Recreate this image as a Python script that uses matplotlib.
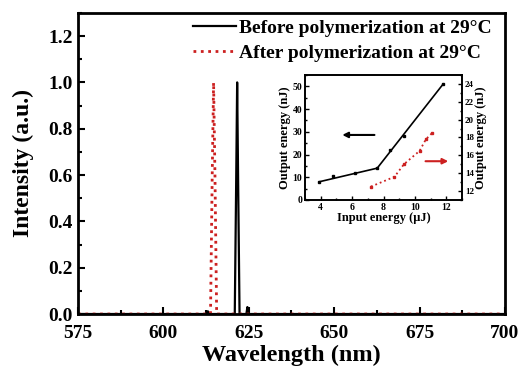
import matplotlib.pyplot as plt
from matplotlib.ticker import MultipleLocator

plt.rcParams['font.family'] = ['Liberation Serif', 'DejaVu Serif']
plt.rcParams['font.weight'] = 'bold'

# spectra (nm, a.u.)
before_wl = [575, 612.6, 613.0, 613.4, 620.9, 621.3, 621.6, 621.9, 622.3, 624.3, 624.6, 624.9, 700]
before_int = [0.0, 0.0, 0.012, 0.0, 0.0, 0.55, 1.0, 0.55, 0.0, 0.0, 0.03, 0.0, 0.0]
after_wl = [575, 613.8, 614.3, 614.7, 615.1, 615.6, 700]
after_int = [0.0, 0.0, 0.6, 1.0, 0.6, 0.0, 0.0]

# inset: output energy vs input energy
in_black = [3.9, 4.8, 6.2, 7.6, 8.4, 9.3, 11.8]
out_black = [8.0, 10.5, 12.0, 14.0, 22.0, 28.0, 51.0]
fit_x = [3.9, 7.6, 11.8]
fit_y = [8.0, 14.0, 51.0]
in_red = [7.2, 8.7, 9.3, 10.3, 10.7, 11.1]
out_red = [12.5, 13.6, 15.0, 16.5, 17.8, 18.5]

red = '#cc2020'

fig = plt.figure(figsize=(5.2, 3.69), dpi=100)
ax = fig.add_axes([0.15, 0.149, 0.821, 0.816])
ax.plot(before_wl, before_int, color='black', lw=1.6,
        label='Before polymerization at 29\u00b0C')
ax.plot(after_wl, after_int, color=red, lw=2.0, ls=':',
        label='After polymerization at 29\u00b0C')
ax.set_xlim(575, 700)
ax.set_ylim(0, 1.3)
ax.xaxis.set_major_locator(MultipleLocator(25))
ax.xaxis.set_minor_locator(MultipleLocator(12.5))
ax.yaxis.set_major_locator(MultipleLocator(0.2))
ax.yaxis.set_minor_locator(MultipleLocator(0.1))
ax.tick_params(which='both', direction='in', labelsize=14, width=1.5)
ax.tick_params(which='major', length=5)
ax.tick_params(which='minor', length=3)
ax.tick_params(axis='x', pad=8)
ax.tick_params(axis='y', pad=4)
for s in ax.spines.values():
    s.set_linewidth(2)
ax.set_xlabel('Wavelength (nm)', fontsize=17.5, fontweight='bold', labelpad=2)
ax.set_ylabel('Intensity (a.u.)', fontsize=17, fontweight='bold', labelpad=10)
ax.legend(loc='upper right', bbox_to_anchor=(1.0, 1.025), frameon=False, handlelength=2.2,
          handletextpad=0.15, borderaxespad=0.4, borderpad=0.3, labelspacing=0.4,
          prop={'weight': 'bold', 'size': 14})

# inset
ins = fig.add_axes([0.5865, 0.458, 0.302, 0.339])
ins.plot(fit_x, fit_y, color='black', lw=1.2)
ins.plot(in_black, out_black, 's', color='black', ms=2)
ins.set_xlim(3, 13)
ins.set_ylim(0, 55)
ins.xaxis.set_major_locator(MultipleLocator(2))
ins.xaxis.set_minor_locator(MultipleLocator(1))
ins.yaxis.set_major_locator(MultipleLocator(10))
ins.yaxis.set_minor_locator(MultipleLocator(5))
ins.tick_params(which='both', direction='in', labelsize=7, width=1, pad=2)
ins.tick_params(which='major', length=3)
ins.tick_params(which='minor', length=1.5)
ins.set_xlabel('Input energy (\u03bcJ)', fontsize=9, fontweight='bold', labelpad=0)
ins.set_ylabel('Output energy (nJ)', fontsize=9, fontweight='bold', labelpad=1)

ins2 = ins.twinx()
ins2.plot(in_red, out_red, ':', color=red, lw=1.3, marker='s', ms=1.8)
ins2.set_ylim(11, 25)
ins2.yaxis.set_major_locator(MultipleLocator(2))
ins2.yaxis.set_minor_locator(MultipleLocator(1))
ins2.tick_params(which='both', direction='in', labelsize=6.5, width=1, pad=2)
ins2.tick_params(which='major', length=3)
ins2.tick_params(which='minor', length=1.5)
ins2.set_ylabel('Output energy (nJ)', fontsize=9, fontweight='bold', labelpad=1)
for a in (ins, ins2):
    for s in a.spines.values():
        s.set_linewidth(1.2)

ins.annotate('', xy=(0.22, 0.52), xytext=(0.46, 0.52), xycoords='axes fraction',
             arrowprops=dict(arrowstyle='-|>', color='black', lw=1.5, mutation_scale=8))
ins.annotate('', xy=(0.93, 0.31), xytext=(0.75, 0.31), xycoords='axes fraction',
             arrowprops=dict(arrowstyle='-|>', color=red, lw=1.5, mutation_scale=8))

fig.savefig('out.png', dpi=100)
